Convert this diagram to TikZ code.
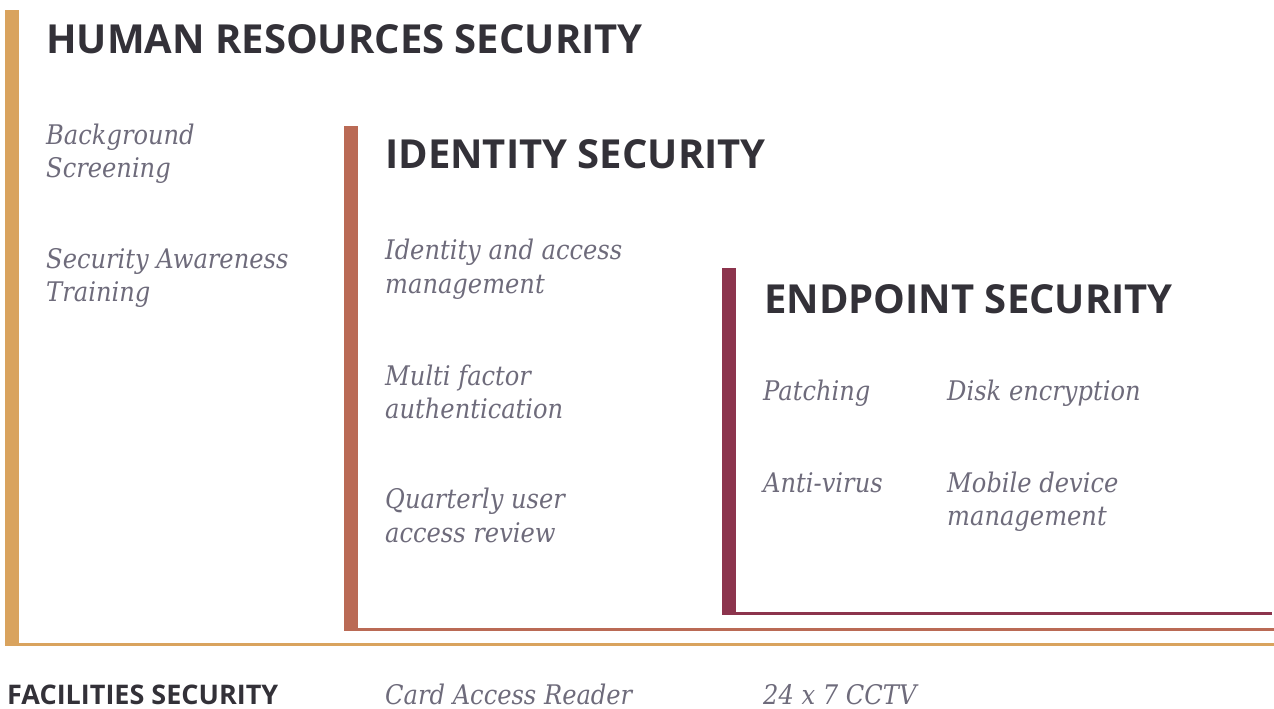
\documentclass[tikz,border=0pt]{standalone}
\usepackage{fontspec}
\newfontfamily\headfont{Open Sans}
\newfontfamily\itemfont[FakeStretch=0.895]{DejaVu Serif}
\definecolor{cgold}{HTML}{D9A35E}
\definecolor{cterra}{HTML}{BA6A55}
\definecolor{cmaroon}{HTML}{8C344D}
\definecolor{chead}{HTML}{333138}
\definecolor{citem}{HTML}{6E6B7B}
\tikzset{
  head/.style={anchor=base west, inner sep=0pt, text=chead, font=\headfont\bfseries\fontsize{40}{48}\selectfont},
  smallhead/.style={anchor=base west, inner sep=0pt, text=chead, font=\headfont\bfseries\fontsize{27}{32}\selectfont},
  item/.style={anchor=base west, inner sep=0pt, text=citem, font=\itemfont\itshape\fontsize{27}{33}\selectfont},
}
\begin{document}
\begin{tikzpicture}[x=1pt,y=-1pt]
\useasboundingbox (0,0) rectangle (1274,709);
% bars and lines
\fill[cgold] (5,10) rectangle (19,646);
\fill[cgold] (5,643) rectangle (1274,646);
\fill[cterra] (344,126) rectangle (358,631);
\fill[cterra] (344,628) rectangle (1274,631);
\fill[cmaroon] (722,268) rectangle (736,615);
\fill[cmaroon] (722,612) rectangle (1272,615);
% headings
\node[head] (hr) at (46,53) {HUMAN RESOURCES SECURITY};
\node[head] (id) at (385,168) {IDENTITY SECURITY};
\node[head] (ep) at (764,313) {ENDPOINT SECURITY};
\node[smallhead] (fac) at (7,704) {FACILITIES SECURITY};
% HR items
\node[item] (bg1) at (46,144) {Background};
\node[item] (bg2) at (46,177) {Screening};
\node[item] (sa1) at (46,268) {Security Awareness};
\node[item] (sa2) at (46,301) {Training};
% identity items
\node[item] (iam1) at (385,259) {Identity and access};
\node[item] (iam2) at (385,293) {management};
\node[item] (mfa1) at (385,385) {Multi factor};
\node[item] (mfa2) at (385,418) {authentication};
\node[item] (qr1) at (385,508) {Quarterly user};
\node[item] (qr2) at (385,542) {access review};
% endpoint items
\node[item] (pa) at (763,400) {Patching};
\node[item] (de) at (947,400) {Disk encryption};
\node[item] (av) at (763,492) {Anti-virus};
\node[item] (md1) at (947,492) {Mobile device};
\node[item] (md2) at (947,525) {management};
% facilities items
\node[item] (car) at (385,704) {Card Access Reader};
\node[item] (cctv) at (763,704) {24 x 7 CCTV};
\end{tikzpicture}
\end{document}
